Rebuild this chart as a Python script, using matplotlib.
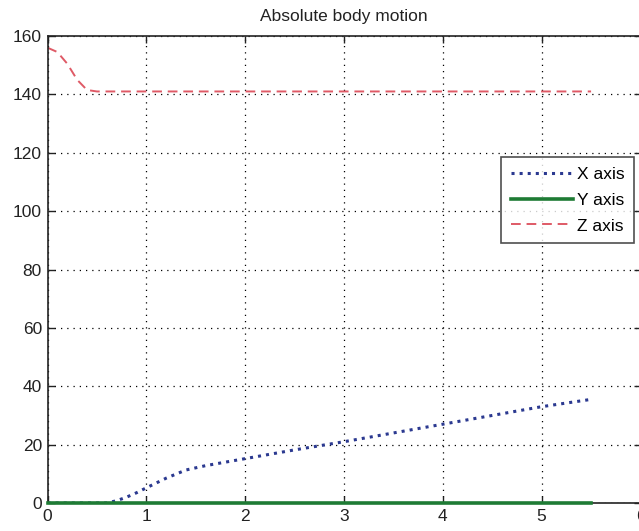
import numpy as np
import matplotlib.pyplot as plt

plt.rcParams['font.family'] = ['Liberation Sans', 'DejaVu Sans']

# time samples (s)
t = [0.0, 0.1, 0.2, 0.3, 0.4, 0.5, 0.6, 0.7, 0.8, 0.9, 1.0, 1.2, 1.4, 1.6, 1.8,
     2.0, 2.5, 3.0, 3.5, 4.0, 4.5, 5.0, 5.5]
x_axis = [0.0, 0.0, 0.0, 0.0, 0.0, 0.0, 0.0, 0.8, 2.0, 3.5, 5.2, 8.5, 11.3, 12.8, 14.0,
          15.2, 18.2, 21.0, 24.0, 27.0, 30.0, 33.0, 35.5]
y_axis = [0.0] * len(t)
z_axis = [156.0, 154.5, 150.5, 145.0, 141.5, 141.0, 141.0, 141.0, 141.0, 141.0, 141.0,
          141.0, 141.0, 141.0, 141.0, 141.0, 141.0, 141.0, 141.0, 141.0, 141.0, 141.0, 141.0]

fig = plt.figure(figsize=(6.39, 5.31), dpi=100)
W, H = 639, 531
ax = fig.add_axes([47.5 / W, 1 - 503 / H, 593 / W, (503 - 36) / H])

ax.plot(t, x_axis, ':', color='#2b3990', lw=2.2, label='X axis')
ax.plot(t, y_axis, '-', color='#1e7b34', lw=2.6, label='Y axis', clip_on=False, zorder=5)
ax.plot(t, z_axis, '--', color='#df5a66', lw=1.4, dashes=(5, 3), label='Z axis')

ax.set_xlim(0, 6)
ax.set_ylim(0, 160)
ax.set_xticks(range(0, 7))
ax.set_yticks(range(0, 161, 20))
ax.grid(True, color='black', linestyle=(0, (1, 4)), lw=0.9)
ax.tick_params(direction='in', length=5, labelsize=12.5, colors='#222222', width=1, pad=4,
               top=True, right=True)
for s in ax.spines.values():
    s.set_color('#222222')
    s.set_linewidth(1.2)
ax.spines['right'].set_visible(False)
ax.set_title('Absolute body motion', fontsize=12.5, color='#222222', pad=11)

leg = ax.legend(loc='upper left', bbox_to_anchor=((501 - 47.5) / 593, 1 - (157 - 36) / 467),
                fontsize=12.5, frameon=True, fancybox=False, handlelength=3.6,
                handletextpad=0.2, borderpad=0.55, labelspacing=0.62, borderaxespad=0,
                markerfirst=True)
leg.get_frame().set_edgecolor('#222222')
leg.get_frame().set_linewidth(1.2)

fig.savefig('out.png', dpi=100)
